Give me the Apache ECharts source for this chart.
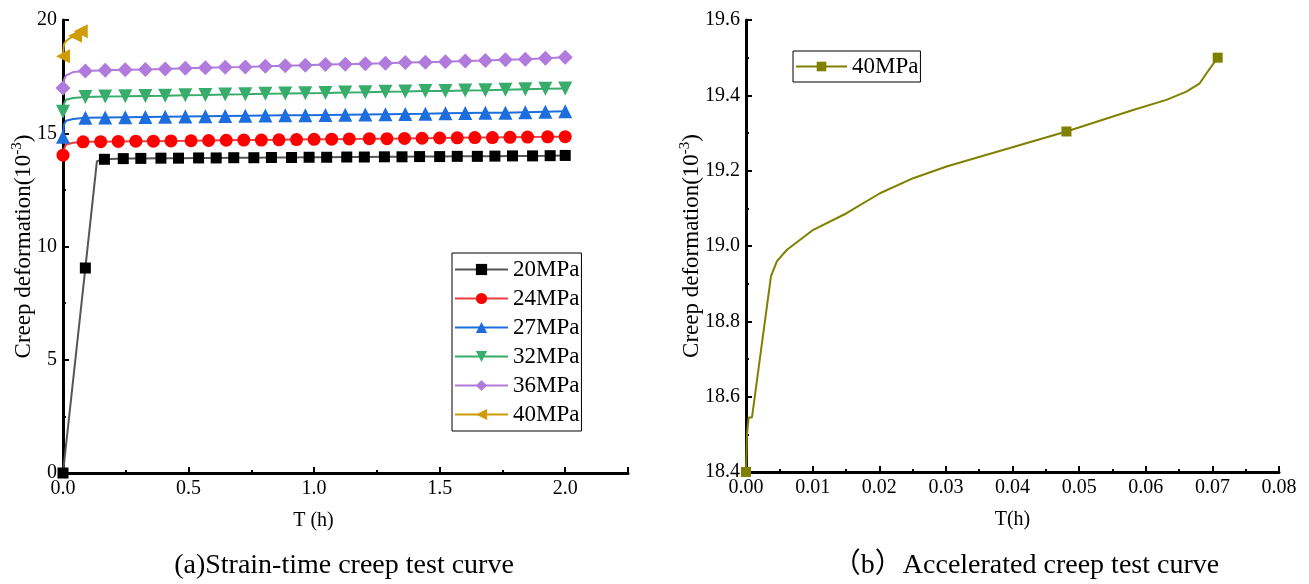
<!DOCTYPE html>
<html>
<head>
<meta charset="utf-8">
<script src="https://cdn.jsdelivr.net/npm/echarts@6/dist/echarts.min.js"></script>
<style>
html, body { margin: 0; padding: 0; background: #fff; }
#main { width: 1309px; height: 584px; }
</style>
</head>
<body>
<div id="main"></div>
<script>
var FONT = '"Liberation Serif", "Noto Sans CJK SC", serif';

var pressures = ['20MPa', '24MPa', '27MPa', '32MPa', '36MPa', '40MPa'];

// marker points, time (h) / creep deformation (10^-3)
var t20 = [0, 0.089, 0.165, 0.24, 0.31, 0.39, 0.46, 0.54, 0.61, 0.68, 0.76, 0.83, 0.91, 0.98, 1.05, 1.13, 1.20, 1.28, 1.35, 1.42, 1.50, 1.57, 1.65, 1.72, 1.79, 1.87, 1.94, 2.00];
var v20 = [0, 9.05, 13.85, 13.88, 13.89, 13.90, 13.90, 13.91, 13.91, 13.92, 13.92, 13.93, 13.93, 13.94, 13.94, 13.95, 13.95, 13.96, 13.96, 13.97, 13.97, 13.98, 13.98, 13.99, 14.00, 14.00, 14.01, 14.02];
var bend20 = [[0.135, 13.76]];

var t24 = [0, 0.08, 0.15, 0.22, 0.29, 0.36, 0.43, 0.51, 0.58, 0.65, 0.72, 0.79, 0.86, 0.93, 1.00, 1.07, 1.14, 1.22, 1.29, 1.36, 1.43, 1.50, 1.57, 1.64, 1.71, 1.78, 1.85, 1.93, 2.00];
var v24 = [14.03, 14.62, 14.63, 14.64, 14.65, 14.65, 14.66, 14.67, 14.68, 14.69, 14.70, 14.70, 14.71, 14.72, 14.73, 14.74, 14.75, 14.76, 14.76, 14.77, 14.78, 14.79, 14.80, 14.81, 14.81, 14.82, 14.83, 14.84, 14.85];
var bend24 = [[0.004, 14.30], [0.012, 14.50], [0.04, 14.58]];

// 27, 32 and 36 MPa share the same marker times
var tMid = [0, 0.089, 0.168, 0.248, 0.328, 0.407, 0.487, 0.567, 0.646, 0.726, 0.806, 0.885, 0.965, 1.045, 1.124, 1.204, 1.284, 1.363, 1.443, 1.523, 1.602, 1.682, 1.762, 1.841, 1.921, 2.0];
var v27 = [14.85, 15.68, 15.70, 15.71, 15.72, 15.73, 15.74, 15.75, 15.76, 15.77, 15.78, 15.79, 15.80, 15.81, 15.82, 15.83, 15.84, 15.85, 15.86, 15.88, 15.89, 15.90, 15.91, 15.93, 15.95, 15.97];
var bend27 = [[0.004, 15.40], [0.012, 15.55], [0.04, 15.63]];
var v32 = [15.95, 16.60, 16.62, 16.63, 16.65, 16.66, 16.68, 16.69, 16.71, 16.72, 16.74, 16.75, 16.77, 16.78, 16.80, 16.81, 16.83, 16.84, 16.86, 16.87, 16.89, 16.90, 16.92, 16.94, 16.96, 16.98];
var bend32 = [[0.004, 16.30], [0.012, 16.48], [0.04, 16.56]];
var v36 = [17.00, 17.75, 17.78, 17.80, 17.82, 17.84, 17.87, 17.89, 17.91, 17.93, 17.96, 17.98, 18.00, 18.03, 18.05, 18.07, 18.09, 18.12, 18.14, 18.16, 18.19, 18.21, 18.24, 18.27, 18.31, 18.35];
var bend36 = [[0.004, 17.35], [0.012, 17.55], [0.04, 17.70]];

// 40MPa: accelerated creep curve (also drawn in chart a)
var t40 = [0, 0.00015, 0.0004, 0.0009, 0.00375, 0.00465, 0.00615, 0.0101, 0.0151, 0.0201, 0.0251, 0.0301, 0.0351, 0.0396, 0.0481, 0.0581, 0.0631, 0.0661, 0.0681, 0.0691, 0.0708];
var v40 = [18.40, 18.50, 18.545, 18.545, 18.92, 18.96, 18.99, 19.043, 19.087, 19.14, 19.18, 19.211, 19.237, 19.26, 19.304, 19.361, 19.388, 19.41, 19.432, 19.458, 19.50];
var mark40 = [0, 14, 20];

function buildData(times, values, bends) {
  var pts = times.map(function (t, i) { return { value: [t, values[i]] }; });
  bends.forEach(function (b) { pts.push({ value: b, symbol: 'none' }); });
  pts.sort(function (a, b) { return a.value[0] - b.value[0]; });
  return pts;
}
var data40 = t40.map(function (t, i) {
  return mark40.indexOf(i) >= 0 ? { value: [t, v40[i]] } : { value: [t, v40[i]], symbol: 'none' };
});

function axisBase() {
  return {
    type: 'value',
    axisLine: { show: true, onZero: false, lineStyle: { color: '#000', width: 3 } },
    axisTick: { show: true, inside: true, length: 6, lineStyle: { color: '#000', width: 2 } },
    splitLine: { show: false },
    axisLabel: { color: '#000', fontFamily: FONT, fontSize: 20, margin: 6 },
    nameLocation: 'middle',
    nameMoveOverlap: false,
    nameTextStyle: { color: '#000', fontFamily: FONT, fontSize: 20 }
  };
}
// extra axis drawing only the short inward minor ticks
function minorAxis(grid, min, max, step, pos) {
  return {
    type: 'value', gridIndex: grid, min: min, max: max, interval: step,
    position: pos, offset: 0,
    axisLine: { show: false }, axisLabel: { show: false }, splitLine: { show: false },
    axisTick: { show: true, inside: true, length: 3, lineStyle: { color: '#000', width: 2 } }
  };
}
function yName(gap) {
  var ax = axisBase();
  ax.name = 'Creep deformation(10{sup|-3})';
  ax.nameGap = gap;
  ax.nameTextStyle = {
    color: '#000', fontFamily: FONT, fontSize: 23, lineHeight: 27,
    rich: { sup: { color: '#000', fontFamily: FONT, fontSize: 15, verticalAlign: 'top' } }
  };
  return ax;
}

var xa = axisBase();
xa.gridIndex = 0; xa.min = 0; xa.max = 2.25; xa.interval = 0.5;
xa.name = 'T (h)'; xa.nameGap = 38;
xa.nameTextStyle.padding = [0, 64, 0, 0];
xa.axisLabel.formatter = function (v) {
  return Math.abs(v * 2 - Math.round(v * 2)) < 1e-6 ? v.toFixed(1) : '';
};
var xb = axisBase();
xb.gridIndex = 1; xb.min = 0; xb.max = 0.08; xb.interval = 0.01;
xb.name = 'T(h)'; xb.nameGap = 38;
xb.axisLabel.formatter = function (v) { return v.toFixed(2); };

var ya = yName(26);
ya.gridIndex = 0; ya.min = 0; ya.max = 20; ya.interval = 5;
var yb = yName(41);
yb.gridIndex = 1; yb.min = 18.4; yb.max = 19.6; yb.interval = 0.2;
yb.axisLabel.formatter = function (v) { return v.toFixed(1); };

function lineSeries(name, data, color, lineColor, symbol, size, rotate) {
  return {
    name: name, type: 'line', xAxisIndex: 0, yAxisIndex: 0,
    data: data, clip: false,
    symbol: symbol, symbolSize: size, symbolRotate: rotate || 0,
    itemStyle: { color: color },
    lineStyle: { color: lineColor, width: 2 },
    emphasis: { disabled: true }
  };
}

var chart = echarts.init(document.getElementById('main'));
chart.setOption({
  backgroundColor: '#fff',
  animation: false,
  grid: [
    { left: 63, top: 20, width: 565, height: 453 },
    { left: 746, top: 20, width: 533, height: 452 }
  ],
  xAxis: [xa, xb, minorAxis(0, 0, 2.25, 0.25, 'bottom'), minorAxis(1, 0, 0.08, 0.005, 'bottom')],
  yAxis: [ya, yb, minorAxis(0, 0, 20, 2.5, 'left'), minorAxis(1, 18.4, 19.6, 0.1, 'left')],
  legend: [
    {
      data: pressures, orient: 'vertical', left: 452, top: 253,
      padding: [5, 2, 5, 2], itemWidth: 53, itemHeight: 14, itemGap: 6,
      borderColor: '#000', borderWidth: 1, selectedMode: false,
      textStyle: { color: '#000', fontFamily: FONT, fontSize: 23, lineHeight: 23 }
    },
    {
      data: ['40MPa '], orient: 'vertical', left: 793, top: 51,
      padding: [4, 2, 4, 2], itemWidth: 51, itemHeight: 12,
      borderColor: '#000', borderWidth: 1, selectedMode: false,
      formatter: function (n) { return n.trim(); },
      textStyle: { color: '#000', fontFamily: FONT, fontSize: 23, lineHeight: 23 }
    }
  ],
  series: [
    lineSeries('20MPa', buildData(t20, v20, bend20), '#000000', '#555555', 'rect', 11),
    lineSeries('24MPa', buildData(t24, v24, bend24), '#ff0000', '#f03c3c', 'circle', 13),
    lineSeries('27MPa', buildData(tMid, v27, bend27), '#1c6ddd', '#1c6ddd', 'triangle', 14),
    lineSeries('32MPa', buildData(tMid, v32, bend32), '#38ac6a', '#38ac6a', 'triangle', 14, 180),
    lineSeries('36MPa', buildData(tMid, v36, bend36), '#b07bdd', '#b07bdd', 'diamond', 15),
    lineSeries('40MPa', data40, '#cf9c07', '#cf9c07', 'triangle', 14, 90),
    {
      name: '40MPa ', type: 'line', xAxisIndex: 1, yAxisIndex: 1,
      data: data40, clip: false,
      symbol: 'rect', symbolSize: 10,
      itemStyle: { color: '#808000' },
      lineStyle: { color: '#808000', width: 2 },
      emphasis: { disabled: true }
    }
  ],
  graphic: [
    { type: 'text', x: 344, y: 566,
      style: { text: '(a)Strain-time creep test curve', fill: '#000', fontFamily: FONT, fontSize: 28, align: 'center', verticalAlign: 'middle' } },
    { type: 'text', x: 1026, y: 566,
      style: { text: '（b）Accelerated creep test curve', fill: '#000', fontFamily: FONT, fontSize: 28, align: 'center', verticalAlign: 'middle' } }
  ]
});
</script>
</body>
</html>
